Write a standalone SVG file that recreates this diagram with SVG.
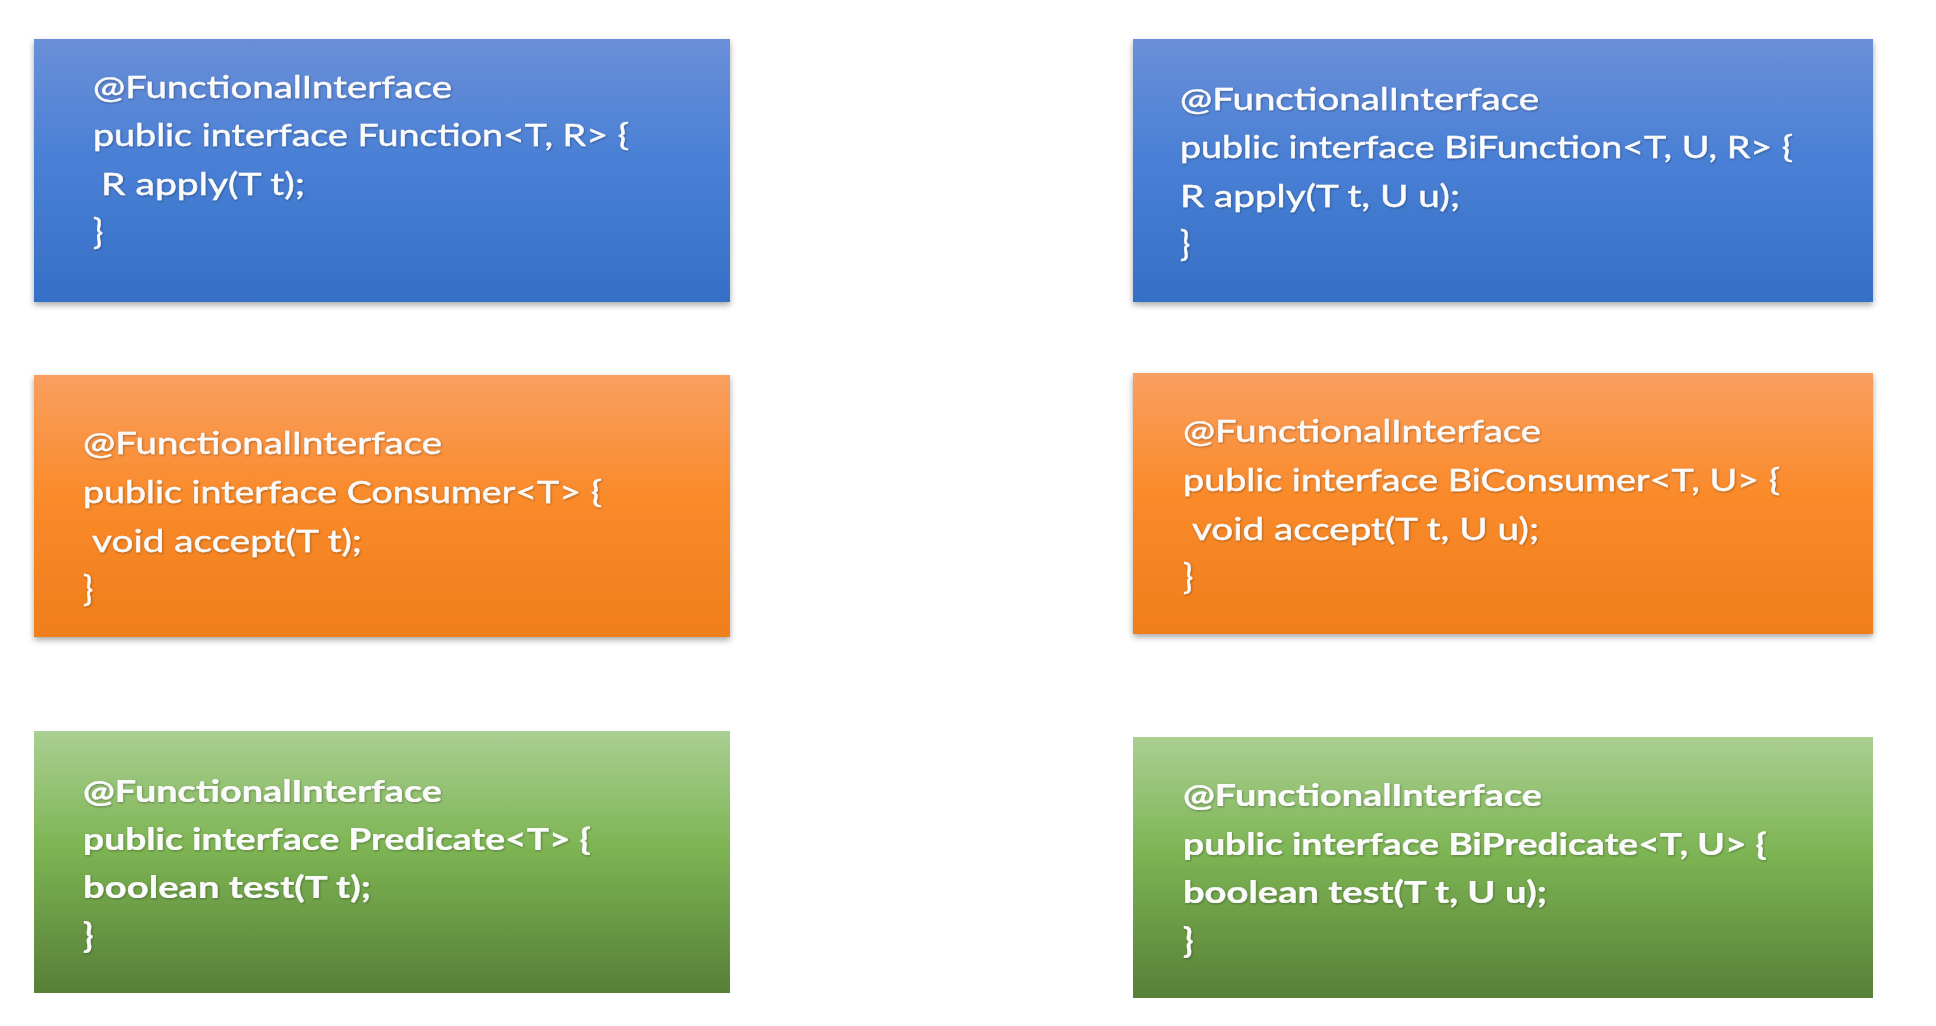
<svg xmlns="http://www.w3.org/2000/svg" width="1936" height="1026" viewBox="0 0 1936 1026">
  <defs>
    <linearGradient id="gBlue" x1="0" y1="0" x2="0" y2="1">
      <stop offset="0" stop-color="#6a8fd8"/>
      <stop offset="0.45" stop-color="#4a80d5"/>
      <stop offset="1" stop-color="#3570c6"/>
    </linearGradient>
    <linearGradient id="gOrange" x1="0" y1="0" x2="0" y2="1">
      <stop offset="0" stop-color="#f99f60"/>
      <stop offset="0.45" stop-color="#fa8b2c"/>
      <stop offset="1" stop-color="#ef7e1a"/>
    </linearGradient>
    <linearGradient id="gGreen" x1="0" y1="0" x2="0" y2="1">
      <stop offset="0" stop-color="#aacf92"/>
      <stop offset="0.45" stop-color="#7db453"/>
      <stop offset="1" stop-color="#577f38"/>
    </linearGradient>
    <filter id="boxShadow" x="-5%" y="-5%" width="110%" height="115%">
      <feDropShadow dx="0" dy="3" stdDeviation="3" flood-color="#000" flood-opacity="0.35"/>
    </filter>
    <filter id="txtShadow" x="-2%" y="-20%" width="104%" height="140%">
      <feDropShadow dx="0.8" dy="1" stdDeviation="0.8" flood-color="#1a1a1a" flood-opacity="0.35"/>
    </filter>
  </defs>
  <style>
    .code { font-family: Lato, "Open Sans", "Liberation Sans", sans-serif; font-size: 30px; fill: #fbfbfb; stroke: #fbfbfb; stroke-width: 0.4px; filter: url(#txtShadow); }
    .bold { font-weight: bold; stroke-width: 0.2px; }
    .brace { font-size: 34px; }
  </style>
  <rect width="1936" height="1026" fill="#ffffff"/>

  <g id="function">
    <rect x="34" y="39" width="696" height="263" fill="url(#gBlue)" filter="url(#boxShadow)"/>
    <text class="code" x="93" y="98" textLength="359" lengthAdjust="spacingAndGlyphs">@FunctionalInterface</text>
    <text class="code" x="93" y="146" textLength="536" lengthAdjust="spacingAndGlyphs">public interface Function&lt;T, R&gt; {</text>
    <text class="code" x="101" y="195" textLength="204" lengthAdjust="spacingAndGlyphs">R apply(T t);</text>
    <text class="code brace" x="93" y="244">}</text>
  </g>

  <g id="bifunction">
    <rect x="1133" y="39" width="740" height="263" fill="url(#gBlue)" filter="url(#boxShadow)"/>
    <text class="code" x="1180" y="110" textLength="359" lengthAdjust="spacingAndGlyphs">@FunctionalInterface</text>
    <text class="code" x="1180" y="158" textLength="613" lengthAdjust="spacingAndGlyphs">public interface BiFunction&lt;T, U, R&gt; {</text>
    <text class="code" x="1180" y="207" textLength="280" lengthAdjust="spacingAndGlyphs">R apply(T t, U u);</text>
    <text class="code brace" x="1180" y="256">}</text>
  </g>

  <g id="consumer">
    <rect x="34" y="375" width="696" height="262" fill="url(#gOrange)" filter="url(#boxShadow)"/>
    <text class="code" x="83" y="454" textLength="359" lengthAdjust="spacingAndGlyphs">@FunctionalInterface</text>
    <text class="code" x="83" y="503" textLength="519" lengthAdjust="spacingAndGlyphs">public interface Consumer&lt;T&gt; {</text>
    <text class="code" x="92" y="552" textLength="270" lengthAdjust="spacingAndGlyphs">void accept(T t);</text>
    <text class="code brace" x="83" y="601">}</text>
  </g>

  <g id="biconsumer">
    <rect x="1133" y="373" width="740" height="261" fill="url(#gOrange)" filter="url(#boxShadow)"/>
    <text class="code" x="1183" y="442" textLength="358" lengthAdjust="spacingAndGlyphs">@FunctionalInterface</text>
    <text class="code" x="1183" y="491" textLength="597" lengthAdjust="spacingAndGlyphs">public interface BiConsumer&lt;T, U&gt; {</text>
    <text class="code" x="1192" y="540" textLength="347" lengthAdjust="spacingAndGlyphs">void accept(T t, U u);</text>
    <text class="code brace" x="1183" y="589">}</text>
  </g>

  <g id="predicate">
    <rect x="34" y="731" width="696" height="262" fill="url(#gGreen)"/>
    <text class="code bold" x="83" y="802" textLength="359" lengthAdjust="spacingAndGlyphs">@FunctionalInterface</text>
    <text class="code bold" x="83" y="850" textLength="508" lengthAdjust="spacingAndGlyphs">public interface Predicate&lt;T&gt; {</text>
    <text class="code bold" x="83" y="898" textLength="288" lengthAdjust="spacingAndGlyphs">boolean test(T t);</text>
    <text class="code bold brace" x="83" y="947">}</text>
  </g>

  <g id="bipredicate">
    <rect x="1133" y="737" width="740" height="261" fill="url(#gGreen)"/>
    <text class="code bold" x="1183" y="806" textLength="359" lengthAdjust="spacingAndGlyphs">@FunctionalInterface</text>
    <text class="code bold" x="1183" y="855" textLength="584" lengthAdjust="spacingAndGlyphs">public interface BiPredicate&lt;T, U&gt; {</text>
    <text class="code bold" x="1183" y="903" textLength="364" lengthAdjust="spacingAndGlyphs">boolean test(T t, U u);</text>
    <text class="code bold brace" x="1183" y="952">}</text>
  </g>
</svg>
